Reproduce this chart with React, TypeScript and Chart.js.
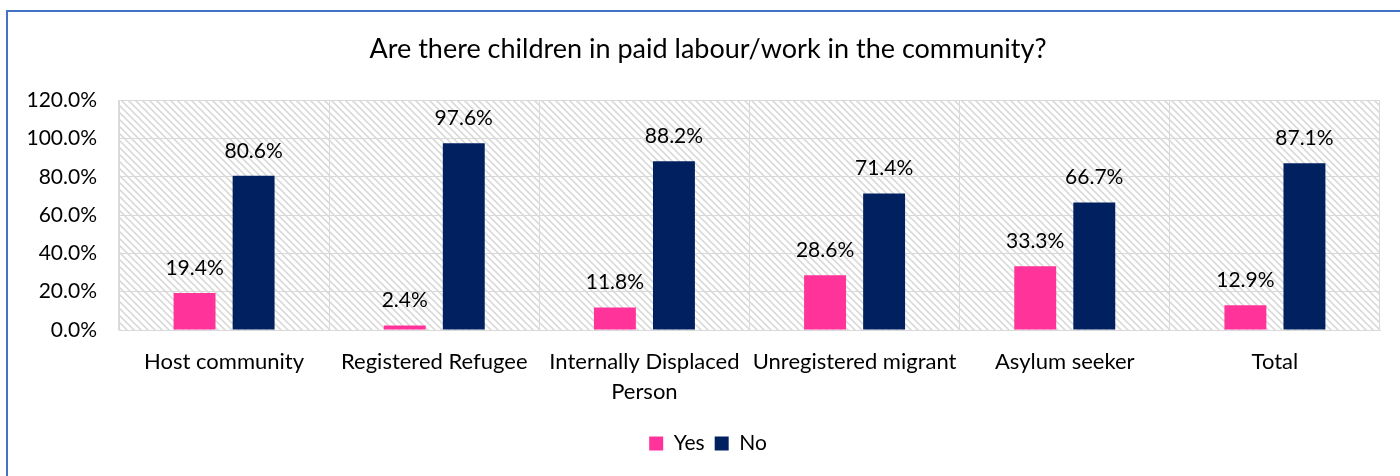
import React, { useEffect, useRef } from "react";
import { Chart, registerables } from "chart.js";

Chart.register(...registerables);

const chartTitle = "Are there children in paid labour/work in the community?";
const categories: (string | string[])[] = [
  "Host community",
  "Registered Refugee",
  ["Internally Displaced", "Person"],
  "Unregistered migrant",
  "Asylum seeker",
  "Total",
];
const seriesNames = ["Yes", "No"];
const yesValues = [19.4, 2.4, 11.8, 28.6, 33.3, 12.9];
const noValues = [80.6, 97.6, 88.2, 71.4, 66.7, 87.1];
const yMin = 0;
const yMax = 120;
const yStep = 20;

const PINK = "#FF3399";
const NAVY = "#002060";
const GRID = "#D9D9D9";
const FONT = "Lato, 'Open Sans', sans-serif";

function makeHatch(ctx: CanvasRenderingContext2D): CanvasPattern | string {
  const c = document.createElement("canvas");
  c.width = 7;
  c.height = 7;
  const p = c.getContext("2d");
  if (!p) return "#fff";
  p.fillStyle = "#ffffff";
  p.fillRect(0, 0, 7, 7);
  p.strokeStyle = "#DADADA";
  p.lineWidth = 1.6;
  p.beginPath();
  p.moveTo(-1, -1);
  p.lineTo(8, 8);
  p.moveTo(-8, -1);
  p.lineTo(1, 8);
  p.moveTo(6, -1);
  p.lineTo(15, 8);
  p.stroke();
  return ctx.createPattern(c, "repeat") || "#fff";
}

const backgroundPlugin = {
  id: "bgHatch",
  beforeDraw(chart: any) {
    const { ctx, chartArea } = chart;
    ctx.save();
    ctx.fillStyle = "#ffffff";
    ctx.fillRect(0, 0, chart.width, chart.height);
    // outer frame
    ctx.strokeStyle = "#4472C4";
    ctx.lineWidth = 2;
    ctx.beginPath();
    ctx.moveTo(7, 476);
    ctx.lineTo(7, 11);
    ctx.lineTo(1400, 11);
    ctx.stroke();
    // hatched plot area
    ctx.fillStyle = makeHatch(ctx);
    ctx.fillRect(chartArea.left, chartArea.top, chartArea.right - chartArea.left, chartArea.bottom - chartArea.top);
    ctx.restore();
  },
};

const valueLabelPlugin = {
  id: "valueLabels",
  afterDatasetsDraw(chart: any) {
    const { ctx } = chart;
    ctx.save();
    ctx.font = `21px ${FONT}`;
    ctx.fillStyle = "#000000";
    ctx.textAlign = "center";
    ctx.textBaseline = "middle";
    chart.data.datasets.forEach((ds: any, di: number) => {
      const meta = chart.getDatasetMeta(di);
      meta.data.forEach((el: any, i: number) => {
        const v = ds.data[i] as number;
        ctx.fillText(v.toFixed(1) + "%", el.x, el.y - 25);
      });
    });
    ctx.restore();
  },
};

export default function App() {
  const ref = useRef<HTMLCanvasElement | null>(null);

  useEffect(() => {
    if (!ref.current) return;
    const chart = new Chart(ref.current, {
      type: "bar",
      data: {
        labels: categories,
        datasets: [
          { label: seriesNames[0], data: yesValues, backgroundColor: PINK, borderWidth: 0 },
          { label: seriesNames[1], data: noValues, backgroundColor: NAVY, borderWidth: 0 },
        ],
      },
      options: {
        responsive: false,
        animation: false,
        devicePixelRatio: 1,
        layout: { padding: { left: 20, right: 4, top: 0, bottom: 12 } },
        datasets: {
          bar: { categoryPercentage: 0.562, barPercentage: 0.71 },
        },
        plugins: {
          title: {
            display: true,
            text: chartTitle,
            color: "#000000",
            font: { family: FONT, size: 27, weight: "normal", lineHeight: 1.2 },
            padding: { top: 33, bottom: 35 },
          },
          legend: {
            display: true,
            position: "bottom",
            labels: {
              color: "#000000",
              font: { family: FONT, size: 21 },
              boxWidth: 14,
              boxHeight: 14,
              padding: 10,
            },
          },
          tooltip: { enabled: false },
        },
        scales: {
          x: {
            grid: { color: GRID, lineWidth: 1, drawTicks: false, offset: true },
            border: { color: GRID, width: 1 },
            ticks: {
              color: "#000000",
              font: { family: FONT, size: 22, lineHeight: 1.36 },
              padding: 17,
              maxRotation: 0,
              autoSkip: false,
            },
            afterFit(scale: any) {
              scale.height = 93;
            },
          },
          y: {
            min: yMin,
            max: yMax,
            grid: { color: GRID, lineWidth: 1, drawTicks: false },
            border: { color: GRID, width: 1 },
            ticks: {
              stepSize: yStep,
              color: "#000000",
              font: { family: FONT, size: 21 },
              padding: 22,
              callback: (v: any) => Number(v).toFixed(1) + "%",
            },
            afterFit(scale: any) {
              scale.width = 99;
            },
          },
          yRightSpacer: {
            type: "linear",
            position: "right",
            display: true,
            grid: { display: false, drawTicks: false },
            border: { display: false },
            ticks: { display: false },
            afterFit(scale: any) {
              scale.width = 16;
            },
          },
        },
      },
      plugins: [backgroundPlugin, valueLabelPlugin],
    });
    return () => chart.destroy();
  }, []);

  return (
    <div style={{ position: "absolute", left: 0, top: 0, width: 1400, height: 476 }}>
      <canvas ref={ref} width={1400} height={476} style={{ display: "block", width: 1400, height: 476 }} />
    </div>
  );
}
